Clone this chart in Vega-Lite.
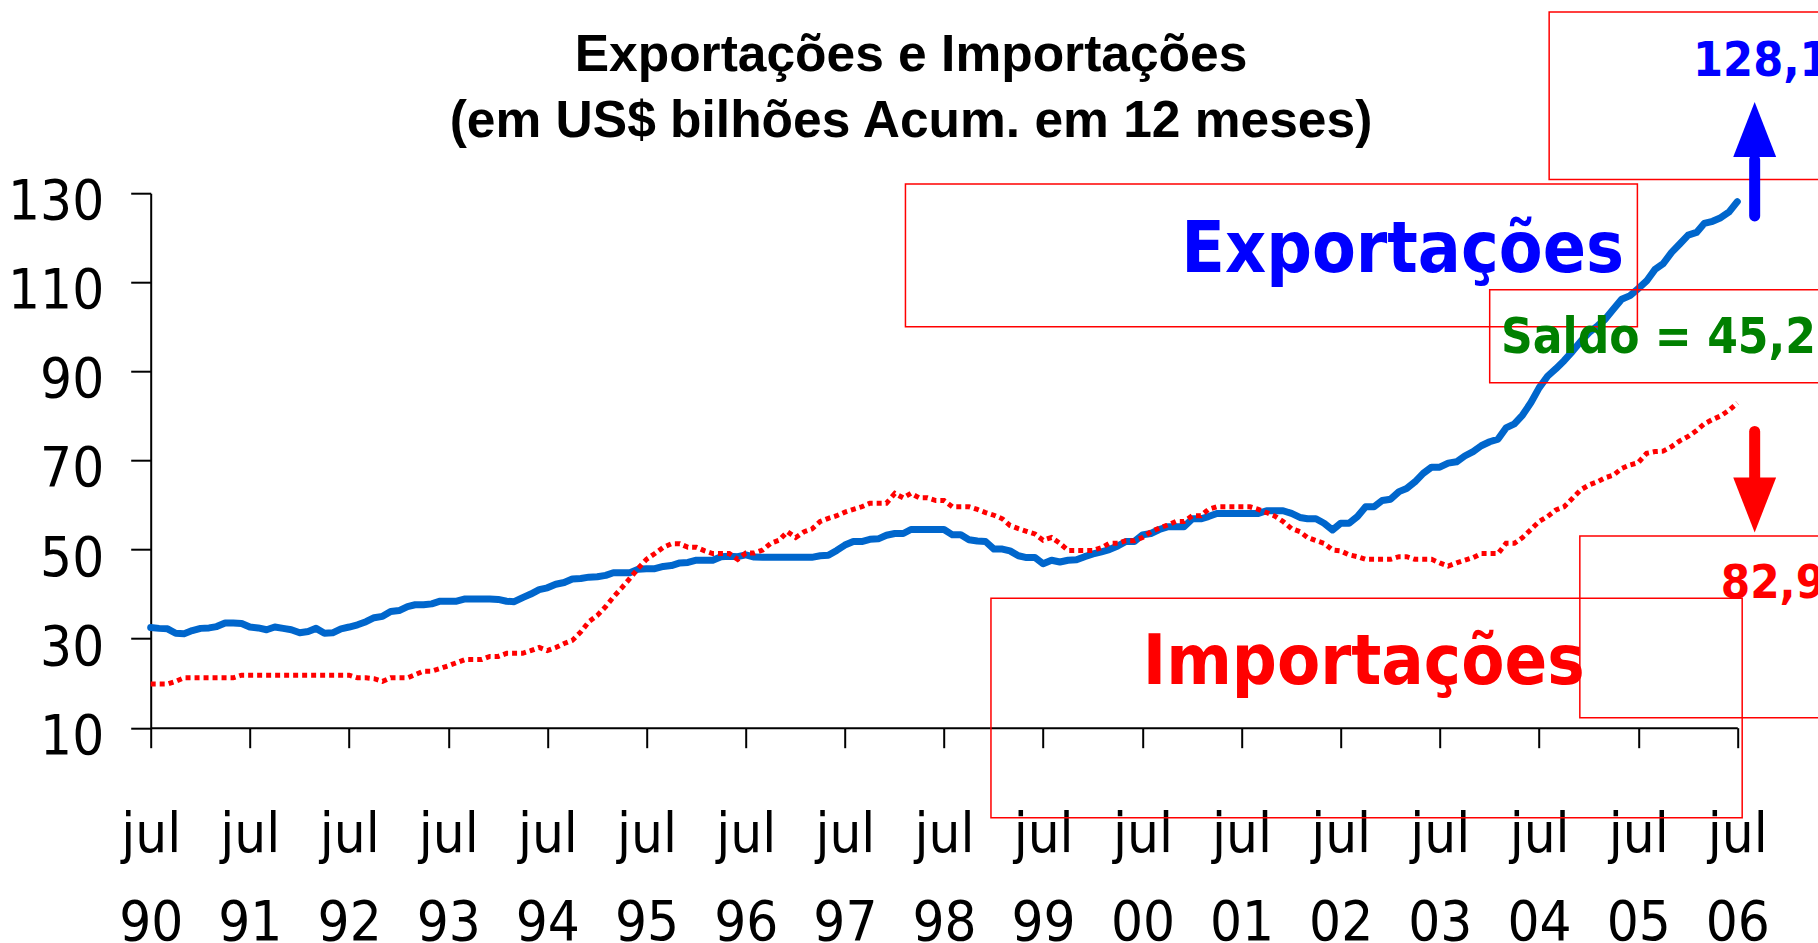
{
  "$schema": "https://vega.github.io/schema/vega-lite/v6.json",
  "width": 1586.6,
  "height": 534.5,
  "autosize": {"type": "none"},
  "padding": {"left": 150.7, "top": 193.2, "right": 80.7, "bottom": 215.3},
  "background": "white",
  "config": {"view": {"stroke": null}},
  "title": {
    "text": ["Exportações e Importações", "(em US$ bilhões Acum. em 12 meses)"],
    "anchor": "middle",
    "frame": "group",
    "dx": -33,
    "offset": -136,
    "baseline": "top",
    "font": "Liberation Sans",
    "fontSize": 51.5,
    "fontWeight": "bold",
    "color": "#000000",
    "lineHeight": 66
  },
  "data": {"values": [
    {"mes":"1990-07","exportacoes":32.5,"importacoes":19.8},
    {"mes":"1990-08","exportacoes":32.3,"importacoes":19.8},
    {"mes":"1990-09","exportacoes":32.2,"importacoes":19.8},
    {"mes":"1990-10","exportacoes":31.2,"importacoes":20.4},
    {"mes":"1990-11","exportacoes":31.1,"importacoes":21.2},
    {"mes":"1990-12","exportacoes":31.8,"importacoes":21.2},
    {"mes":"1991-01","exportacoes":32.3,"importacoes":21.2},
    {"mes":"1991-02","exportacoes":32.4,"importacoes":21.2},
    {"mes":"1991-03","exportacoes":32.7,"importacoes":21.2},
    {"mes":"1991-04","exportacoes":33.5,"importacoes":21.2},
    {"mes":"1991-05","exportacoes":33.5,"importacoes":21.2},
    {"mes":"1991-06","exportacoes":33.4,"importacoes":21.8},
    {"mes":"1991-07","exportacoes":32.6,"importacoes":21.8},
    {"mes":"1991-08","exportacoes":32.4,"importacoes":21.8},
    {"mes":"1991-09","exportacoes":32.0,"importacoes":21.8},
    {"mes":"1991-10","exportacoes":32.6,"importacoes":21.8},
    {"mes":"1991-11","exportacoes":32.3,"importacoes":21.8},
    {"mes":"1991-12","exportacoes":32.0,"importacoes":21.8},
    {"mes":"1992-01","exportacoes":31.3,"importacoes":21.8},
    {"mes":"1992-02","exportacoes":31.6,"importacoes":21.8},
    {"mes":"1992-03","exportacoes":32.3,"importacoes":21.8},
    {"mes":"1992-04","exportacoes":31.2,"importacoes":21.8},
    {"mes":"1992-05","exportacoes":31.3,"importacoes":21.8},
    {"mes":"1992-06","exportacoes":32.2,"importacoes":21.8},
    {"mes":"1992-07","exportacoes":32.6,"importacoes":21.8},
    {"mes":"1992-08","exportacoes":33.1,"importacoes":21.2},
    {"mes":"1992-09","exportacoes":33.8,"importacoes":21.2},
    {"mes":"1992-10","exportacoes":34.7,"importacoes":21.0},
    {"mes":"1992-11","exportacoes":35.0,"importacoes":20.4},
    {"mes":"1992-12","exportacoes":36.1,"importacoes":21.2},
    {"mes":"1993-01","exportacoes":36.3,"importacoes":21.2},
    {"mes":"1993-02","exportacoes":37.2,"importacoes":21.2},
    {"mes":"1993-03","exportacoes":37.6,"importacoes":21.9},
    {"mes":"1993-04","exportacoes":37.6,"importacoes":22.7},
    {"mes":"1993-05","exportacoes":37.8,"importacoes":22.7},
    {"mes":"1993-06","exportacoes":38.4,"importacoes":23.3},
    {"mes":"1993-07","exportacoes":38.4,"importacoes":23.9},
    {"mes":"1993-08","exportacoes":38.4,"importacoes":24.6},
    {"mes":"1993-09","exportacoes":38.9,"importacoes":25.3},
    {"mes":"1993-10","exportacoes":38.9,"importacoes":25.3},
    {"mes":"1993-11","exportacoes":38.9,"importacoes":25.3},
    {"mes":"1993-12","exportacoes":38.9,"importacoes":26.0},
    {"mes":"1994-01","exportacoes":38.8,"importacoes":26.0},
    {"mes":"1994-02","exportacoes":38.4,"importacoes":26.7},
    {"mes":"1994-03","exportacoes":38.3,"importacoes":26.7},
    {"mes":"1994-04","exportacoes":39.2,"importacoes":26.7},
    {"mes":"1994-05","exportacoes":40.0,"importacoes":27.3},
    {"mes":"1994-06","exportacoes":41.0,"importacoes":28.0},
    {"mes":"1994-07","exportacoes":41.4,"importacoes":27.3},
    {"mes":"1994-08","exportacoes":42.2,"importacoes":28.0},
    {"mes":"1994-09","exportacoes":42.6,"importacoes":28.9},
    {"mes":"1994-10","exportacoes":43.4,"importacoes":29.6},
    {"mes":"1994-11","exportacoes":43.5,"importacoes":31.5},
    {"mes":"1994-12","exportacoes":43.8,"importacoes":33.8},
    {"mes":"1995-01","exportacoes":43.9,"importacoes":35.2},
    {"mes":"1995-02","exportacoes":44.2,"importacoes":37.2},
    {"mes":"1995-03","exportacoes":44.8,"importacoes":39.3},
    {"mes":"1995-04","exportacoes":44.8,"importacoes":41.4},
    {"mes":"1995-05","exportacoes":44.8,"importacoes":43.5},
    {"mes":"1995-06","exportacoes":45.6,"importacoes":45.8},
    {"mes":"1995-07","exportacoes":45.7,"importacoes":47.8},
    {"mes":"1995-08","exportacoes":45.7,"importacoes":49.1},
    {"mes":"1995-09","exportacoes":46.2,"importacoes":50.5},
    {"mes":"1995-10","exportacoes":46.4,"importacoes":51.3},
    {"mes":"1995-11","exportacoes":47.0,"importacoes":51.3},
    {"mes":"1995-12","exportacoes":47.1,"importacoes":50.5},
    {"mes":"1996-01","exportacoes":47.6,"importacoes":50.5},
    {"mes":"1996-02","exportacoes":47.6,"importacoes":49.7},
    {"mes":"1996-03","exportacoes":47.6,"importacoes":49.1},
    {"mes":"1996-04","exportacoes":48.4,"importacoes":49.1},
    {"mes":"1996-05","exportacoes":48.5,"importacoes":49.1},
    {"mes":"1996-06","exportacoes":48.4,"importacoes":47.8},
    {"mes":"1996-07","exportacoes":48.8,"importacoes":49.2},
    {"mes":"1996-08","exportacoes":48.3,"importacoes":49.2},
    {"mes":"1996-09","exportacoes":48.25,"importacoes":49.9},
    {"mes":"1996-10","exportacoes":48.25,"importacoes":51.4},
    {"mes":"1996-11","exportacoes":48.25,"importacoes":52.1},
    {"mes":"1996-12","exportacoes":48.25,"importacoes":54.0},
    {"mes":"1997-01","exportacoes":48.25,"importacoes":52.7},
    {"mes":"1997-02","exportacoes":48.25,"importacoes":54.0},
    {"mes":"1997-03","exportacoes":48.25,"importacoes":54.6},
    {"mes":"1997-04","exportacoes":48.6,"importacoes":56.3},
    {"mes":"1997-05","exportacoes":48.7,"importacoes":57.0},
    {"mes":"1997-06","exportacoes":49.8,"importacoes":57.6},
    {"mes":"1997-07","exportacoes":51.0,"importacoes":58.4},
    {"mes":"1997-08","exportacoes":51.8,"importacoes":59.0},
    {"mes":"1997-09","exportacoes":51.8,"importacoes":59.6},
    {"mes":"1997-10","exportacoes":52.3,"importacoes":60.4},
    {"mes":"1997-11","exportacoes":52.4,"importacoes":60.4},
    {"mes":"1997-12","exportacoes":53.2,"importacoes":60.4},
    {"mes":"1998-01","exportacoes":53.6,"importacoes":62.6},
    {"mes":"1998-02","exportacoes":53.6,"importacoes":61.6},
    {"mes":"1998-03","exportacoes":54.5,"importacoes":62.6},
    {"mes":"1998-04","exportacoes":54.5,"importacoes":61.6},
    {"mes":"1998-05","exportacoes":54.5,"importacoes":61.6},
    {"mes":"1998-06","exportacoes":54.5,"importacoes":61.0},
    {"mes":"1998-07","exportacoes":54.5,"importacoes":61.0},
    {"mes":"1998-08","exportacoes":53.3,"importacoes":59.6},
    {"mes":"1998-09","exportacoes":53.3,"importacoes":59.6},
    {"mes":"1998-10","exportacoes":52.2,"importacoes":59.6},
    {"mes":"1998-11","exportacoes":51.9,"importacoes":59.0},
    {"mes":"1998-12","exportacoes":51.8,"importacoes":58.3},
    {"mes":"1999-01","exportacoes":50.1,"importacoes":57.7},
    {"mes":"1999-02","exportacoes":50.1,"importacoes":56.9},
    {"mes":"1999-03","exportacoes":49.7,"importacoes":55.4},
    {"mes":"1999-04","exportacoes":48.6,"importacoes":54.7},
    {"mes":"1999-05","exportacoes":48.2,"importacoes":54.1},
    {"mes":"1999-06","exportacoes":48.2,"importacoes":53.5},
    {"mes":"1999-07","exportacoes":46.8,"importacoes":52.1},
    {"mes":"1999-08","exportacoes":47.6,"importacoes":52.7},
    {"mes":"1999-09","exportacoes":47.2,"importacoes":51.4},
    {"mes":"1999-10","exportacoes":47.6,"importacoes":49.8},
    {"mes":"1999-11","exportacoes":47.7,"importacoes":49.8},
    {"mes":"1999-12","exportacoes":48.4,"importacoes":49.8},
    {"mes":"2000-01","exportacoes":49.0,"importacoes":49.8},
    {"mes":"2000-02","exportacoes":49.5,"importacoes":50.4},
    {"mes":"2000-03","exportacoes":50.0,"importacoes":51.4},
    {"mes":"2000-04","exportacoes":50.8,"importacoes":51.4},
    {"mes":"2000-05","exportacoes":51.8,"importacoes":52.0},
    {"mes":"2000-06","exportacoes":51.8,"importacoes":52.0},
    {"mes":"2000-07","exportacoes":53.3,"importacoes":52.7},
    {"mes":"2000-08","exportacoes":53.6,"importacoes":54.0},
    {"mes":"2000-09","exportacoes":54.5,"importacoes":54.8},
    {"mes":"2000-10","exportacoes":55.1,"importacoes":55.5},
    {"mes":"2000-11","exportacoes":55.1,"importacoes":56.3},
    {"mes":"2000-12","exportacoes":55.1,"importacoes":56.3},
    {"mes":"2001-01","exportacoes":56.9,"importacoes":57.6},
    {"mes":"2001-02","exportacoes":56.9,"importacoes":57.6},
    {"mes":"2001-03","exportacoes":57.4,"importacoes":59.0},
    {"mes":"2001-04","exportacoes":58.1,"importacoes":59.6},
    {"mes":"2001-05","exportacoes":58.1,"importacoes":59.6},
    {"mes":"2001-06","exportacoes":58.1,"importacoes":59.6},
    {"mes":"2001-07","exportacoes":58.1,"importacoes":59.6},
    {"mes":"2001-08","exportacoes":58.1,"importacoes":59.6},
    {"mes":"2001-09","exportacoes":58.1,"importacoes":59.0},
    {"mes":"2001-10","exportacoes":58.7,"importacoes":58.3},
    {"mes":"2001-11","exportacoes":58.7,"importacoes":57.5},
    {"mes":"2001-12","exportacoes":58.7,"importacoes":56.3},
    {"mes":"2002-01","exportacoes":58.1,"importacoes":54.7},
    {"mes":"2002-02","exportacoes":57.2,"importacoes":54.0},
    {"mes":"2002-03","exportacoes":56.9,"importacoes":52.7},
    {"mes":"2002-04","exportacoes":56.9,"importacoes":52.0},
    {"mes":"2002-05","exportacoes":55.9,"importacoes":51.4},
    {"mes":"2002-06","exportacoes":54.4,"importacoes":49.9},
    {"mes":"2002-07","exportacoes":55.9,"importacoes":49.7},
    {"mes":"2002-08","exportacoes":55.9,"importacoes":48.8},
    {"mes":"2002-09","exportacoes":57.4,"importacoes":48.4},
    {"mes":"2002-10","exportacoes":59.6,"importacoes":47.8},
    {"mes":"2002-11","exportacoes":59.6,"importacoes":47.8},
    {"mes":"2002-12","exportacoes":61.0,"importacoes":47.8},
    {"mes":"2003-01","exportacoes":61.3,"importacoes":47.8},
    {"mes":"2003-02","exportacoes":63.0,"importacoes":48.4},
    {"mes":"2003-03","exportacoes":63.7,"importacoes":48.4},
    {"mes":"2003-04","exportacoes":65.2,"importacoes":47.8},
    {"mes":"2003-05","exportacoes":67.1,"importacoes":47.8},
    {"mes":"2003-06","exportacoes":68.5,"importacoes":47.8},
    {"mes":"2003-07","exportacoes":68.5,"importacoes":47.0},
    {"mes":"2003-08","exportacoes":69.4,"importacoes":46.3},
    {"mes":"2003-09","exportacoes":69.7,"importacoes":47.0},
    {"mes":"2003-10","exportacoes":71.0,"importacoes":47.6},
    {"mes":"2003-11","exportacoes":72.0,"importacoes":48.2},
    {"mes":"2003-12","exportacoes":73.3,"importacoes":49.1},
    {"mes":"2004-01","exportacoes":74.2,"importacoes":49.1},
    {"mes":"2004-02","exportacoes":74.8,"importacoes":49.1},
    {"mes":"2004-03","exportacoes":77.3,"importacoes":51.4},
    {"mes":"2004-04","exportacoes":78.2,"importacoes":51.4},
    {"mes":"2004-05","exportacoes":80.2,"importacoes":52.7},
    {"mes":"2004-06","exportacoes":83.0,"importacoes":54.5},
    {"mes":"2004-07","exportacoes":86.3,"importacoes":56.3},
    {"mes":"2004-08","exportacoes":88.9,"importacoes":57.4},
    {"mes":"2004-09","exportacoes":90.6,"importacoes":58.9},
    {"mes":"2004-10","exportacoes":92.4,"importacoes":59.6},
    {"mes":"2004-11","exportacoes":94.5,"importacoes":61.5},
    {"mes":"2004-12","exportacoes":96.7,"importacoes":63.4},
    {"mes":"2005-01","exportacoes":98.7,"importacoes":64.5},
    {"mes":"2005-02","exportacoes":100.2,"importacoes":65.2},
    {"mes":"2005-03","exportacoes":101.7,"importacoes":66.1},
    {"mes":"2005-04","exportacoes":104.0,"importacoes":66.7},
    {"mes":"2005-05","exportacoes":106.2,"importacoes":68.2},
    {"mes":"2005-06","exportacoes":107.0,"importacoes":69.0},
    {"mes":"2005-07","exportacoes":108.6,"importacoes":69.5},
    {"mes":"2005-08","exportacoes":110.3,"importacoes":71.6},
    {"mes":"2005-09","exportacoes":112.9,"importacoes":72.0},
    {"mes":"2005-10","exportacoes":114.2,"importacoes":72.1},
    {"mes":"2005-11","exportacoes":116.7,"importacoes":73.1},
    {"mes":"2005-12","exportacoes":118.6,"importacoes":74.4},
    {"mes":"2006-01","exportacoes":120.6,"importacoes":75.4},
    {"mes":"2006-02","exportacoes":121.2,"importacoes":76.7},
    {"mes":"2006-03","exportacoes":123.2,"importacoes":78.2},
    {"mes":"2006-04","exportacoes":123.7,"importacoes":79.2},
    {"mes":"2006-05","exportacoes":124.5,"importacoes":80.0},
    {"mes":"2006-06","exportacoes":125.8,"importacoes":81.3},
    {"mes":"2006-07","exportacoes":128.1,"importacoes":82.9}
  ]},
  "layer": [
    {
      "mark": {"type": "line", "color": "#0066CC", "strokeWidth": 7, "strokeJoin": "round", "strokeCap": "round"},
      "encoding": {
        "x": {
          "field": "mes", "type": "temporal", "title": null,
          "scale": {"type": "utc", "domain": [{"year": 1990, "month": 7, "date": 1, "utc": true}, {"year": 2006, "month": 7, "date": 1, "utc": true}]},
          "axis": {
            "values": [
              {"year": 1990, "month": 7, "date": 1, "utc": true},
              {"year": 1991, "month": 7, "date": 1, "utc": true},
              {"year": 1992, "month": 7, "date": 1, "utc": true},
              {"year": 1993, "month": 7, "date": 1, "utc": true},
              {"year": 1994, "month": 7, "date": 1, "utc": true},
              {"year": 1995, "month": 7, "date": 1, "utc": true},
              {"year": 1996, "month": 7, "date": 1, "utc": true},
              {"year": 1997, "month": 7, "date": 1, "utc": true},
              {"year": 1998, "month": 7, "date": 1, "utc": true},
              {"year": 1999, "month": 7, "date": 1, "utc": true},
              {"year": 2000, "month": 7, "date": 1, "utc": true},
              {"year": 2001, "month": 7, "date": 1, "utc": true},
              {"year": 2002, "month": 7, "date": 1, "utc": true},
              {"year": 2003, "month": 7, "date": 1, "utc": true},
              {"year": 2004, "month": 7, "date": 1, "utc": true},
              {"year": 2005, "month": 7, "date": 1, "utc": true},
              {"year": 2006, "month": 7, "date": 1, "utc": true}
            ],
            "labelExpr": "['jul', utcFormat(datum.value, '%y')]",
            "grid": false, "title": null,
            "domainColor": "#000000", "domainWidth": 2,
            "tickColor": "#000000", "tickWidth": 2, "tickSize": 20,
            "labelFont": "'Liberation Sans Narrow', 'Arial Narrow', 'DejaVu Sans Condensed', 'Liberation Sans', sans-serif",
            "labelFontSize": 56, "labelColor": "#000000",
            "labelAlign": "center", "labelBaseline": "top", "labelPadding": 59.4, "labelLineHeight": 88,
            "labelFlush": false, "labelOverlap": false, "labelBound": false
          }
        },
        "y": {
          "field": "exportacoes", "type": "quantitative", "title": null,
          "scale": {"domain": [10, 130], "nice": false, "zero": false},
          "axis": {
            "values": [10, 30, 50, 70, 90, 110, 130],
            "grid": false, "title": null,
            "domainColor": "#000000", "domainWidth": 2,
            "tickColor": "#000000", "tickWidth": 2, "tickSize": 20,
            "labelFont": "'Liberation Sans Narrow', 'Arial Narrow', 'DejaVu Sans Condensed', 'Liberation Sans', sans-serif",
            "labelFontSize": 56, "labelColor": "#000000",
            "labelPadding": 27, "labelOffset": 8.5,
            "labelFlush": false, "labelOverlap": false, "labelBound": false
          }
        }
      }
    },
    {
      "mark": {"type": "line", "color": "#FF0000", "strokeWidth": 5, "strokeDash": [5, 4], "strokeCap": "butt"},
      "encoding": {
        "x": {"field": "mes", "type": "temporal", "title": null},
        "y": {"field": "importacoes", "type": "quantitative", "title": null}
      }
    },
    {
      "data": {"values": [{}]},
      "mark": {"type": "rect", "filled": false, "color": "#FF0000", "strokeWidth": 1.5},
      "encoding": {
        "x": {"datum": {"year": 2004, "month": 8, "date": 7, "utc": true}, "type": "temporal", "title": null},
        "x2": {"datum": {"year": 2007, "month": 8, "date": 1, "utc": true}},
        "y": {"datum": 170.7, "type": "quantitative", "title": null},
        "y2": {"datum": 133.1}
      }
    },
    {
      "data": {"values": [{}]},
      "mark": {"type": "rect", "filled": false, "color": "#FF0000", "strokeWidth": 1.5},
      "encoding": {
        "x": {"datum": {"year": 1998, "month": 2, "date": 9, "utc": true}, "type": "temporal", "title": null},
        "x2": {"datum": {"year": 2005, "month": 6, "date": 28, "utc": true}},
        "y": {"datum": 132.07, "type": "quantitative", "title": null},
        "y2": {"datum": 100.0}
      }
    },
    {
      "data": {"values": [{}]},
      "mark": {"type": "rect", "filled": false, "color": "#FF0000", "strokeWidth": 1.5},
      "encoding": {
        "x": {"datum": {"year": 2004, "month": 1, "date": 1, "utc": true}, "type": "temporal", "title": null},
        "x2": {"datum": {"year": 2007, "month": 8, "date": 1, "utc": true}},
        "y": {"datum": 108.3, "type": "quantitative", "title": null},
        "y2": {"datum": 87.46}
      }
    },
    {
      "data": {"values": [{}]},
      "mark": {"type": "rect", "filled": false, "color": "#FF0000", "strokeWidth": 1.5},
      "encoding": {
        "x": {"datum": {"year": 2004, "month": 11, "date": 28, "utc": true}, "type": "temporal", "title": null},
        "x2": {"datum": {"year": 2007, "month": 8, "date": 1, "utc": true}},
        "y": {"datum": 53.04, "type": "quantitative", "title": null},
        "y2": {"datum": 12.25}
      }
    },
    {
      "data": {"values": [{}]},
      "mark": {"type": "rect", "filled": false, "color": "#FF0000", "strokeWidth": 1.5},
      "encoding": {
        "x": {"datum": {"year": 1998, "month": 12, "date": 21, "utc": true}, "type": "temporal", "title": null},
        "x2": {"datum": {"year": 2006, "month": 7, "date": 19, "utc": true}},
        "y": {"datum": 39.05, "type": "quantitative", "title": null},
        "y2": {"datum": -10.2}
      }
    },
    {
      "data": {"values": [{}]},
      "mark": {"type": "text", "text": "Exportações", "font": "'Liberation Sans Narrow', 'Arial Narrow', 'DejaVu Sans Condensed', 'Liberation Sans', sans-serif", "fontWeight": "bold", "fontSize": 71, "color": "#0000FF", "align": "right", "baseline": "alphabetic"},
      "encoding": {
        "x": {"datum": {"year": 2005, "month": 5, "date": 10, "utc": true}, "type": "temporal", "title": null},
        "y": {"datum": 112.4, "type": "quantitative", "title": null}
      }
    },
    {
      "data": {"values": [{}]},
      "mark": {"type": "text", "text": "Importações", "font": "'Liberation Sans Narrow', 'Arial Narrow', 'DejaVu Sans Condensed', 'Liberation Sans', sans-serif", "fontWeight": "bold", "fontSize": 70, "color": "#FF0000", "align": "center", "baseline": "alphabetic"},
      "encoding": {
        "x": {"datum": {"year": 2002, "month": 9, "date": 24, "utc": true}, "type": "temporal", "title": null},
        "y": {"datum": 19.8, "type": "quantitative", "title": null}
      }
    },
    {
      "data": {"values": [{}]},
      "mark": {"type": "text", "text": "Saldo = 45,2", "font": "'Liberation Sans Narrow', 'Arial Narrow', 'DejaVu Sans Condensed', 'Liberation Sans', sans-serif", "fontWeight": "bold", "fontSize": 49, "color": "#008000", "align": "left", "baseline": "alphabetic"},
      "encoding": {
        "x": {"datum": {"year": 2004, "month": 2, "date": 12, "utc": true}, "type": "temporal", "title": null},
        "y": {"datum": 94.06, "type": "quantitative", "title": null}
      }
    },
    {
      "data": {"values": [{}]},
      "mark": {"type": "text", "text": "128,1", "font": "'Liberation Sans Narrow', 'Arial Narrow', 'DejaVu Sans Condensed', 'Liberation Sans', sans-serif", "fontWeight": "bold", "fontSize": 48, "color": "#0000FF", "align": "left", "baseline": "alphabetic"},
      "encoding": {
        "x": {"datum": {"year": 2006, "month": 1, "date": 19, "utc": true}, "type": "temporal", "title": null},
        "y": {"datum": 156.4, "type": "quantitative", "title": null}
      }
    },
    {
      "data": {"values": [{}]},
      "mark": {"type": "text", "text": "82,9", "font": "'Liberation Sans Narrow', 'Arial Narrow', 'DejaVu Sans Condensed', 'Liberation Sans', sans-serif", "fontWeight": "bold", "fontSize": 47, "color": "#FF0000", "align": "left", "baseline": "alphabetic"},
      "encoding": {
        "x": {"datum": {"year": 2006, "month": 5, "date": 1, "utc": true}, "type": "temporal", "title": null},
        "y": {"datum": 39.1, "type": "quantitative", "title": null}
      }
    },
    {
      "data": {"values": [{}]},
      "mark": {"type": "rule", "color": "#0000FF", "strokeWidth": 11, "strokeCap": "round"},
      "encoding": {
        "x": {"datum": {"year": 2006, "month": 9, "date": 3, "utc": true}, "type": "temporal", "title": null},
        "y": {"datum": 124.9, "type": "quantitative", "title": null},
        "y2": {"datum": 137.5}
      }
    },
    {
      "data": {"values": [{}]},
      "mark": {"type": "point", "shape": "M-0.78,1L0.78,1L0,-1Z", "size": 3025, "filled": true, "color": "#0000FF", "opacity": 1, "strokeWidth": 0},
      "encoding": {
        "x": {"datum": {"year": 2006, "month": 9, "date": 3, "utc": true}, "type": "temporal", "title": null},
        "y": {"datum": 144.3, "type": "quantitative", "title": null}
      }
    },
    {
      "data": {"values": [{}]},
      "mark": {"type": "rule", "color": "#FF0000", "strokeWidth": 11, "strokeCap": "round"},
      "encoding": {
        "x": {"datum": {"year": 2006, "month": 9, "date": 3, "utc": true}, "type": "temporal", "title": null},
        "y": {"datum": 76.5, "type": "quantitative", "title": null},
        "y2": {"datum": 65.6}
      }
    },
    {
      "data": {"values": [{}]},
      "mark": {"type": "point", "shape": "M-0.78,-1L0.78,-1L0,1Z", "size": 3025, "filled": true, "color": "#FF0000", "opacity": 1, "strokeWidth": 0},
      "encoding": {
        "x": {"datum": {"year": 2006, "month": 9, "date": 3, "utc": true}, "type": "temporal", "title": null},
        "y": {"datum": 60.0, "type": "quantitative", "title": null}
      }
    }
  ]
}
